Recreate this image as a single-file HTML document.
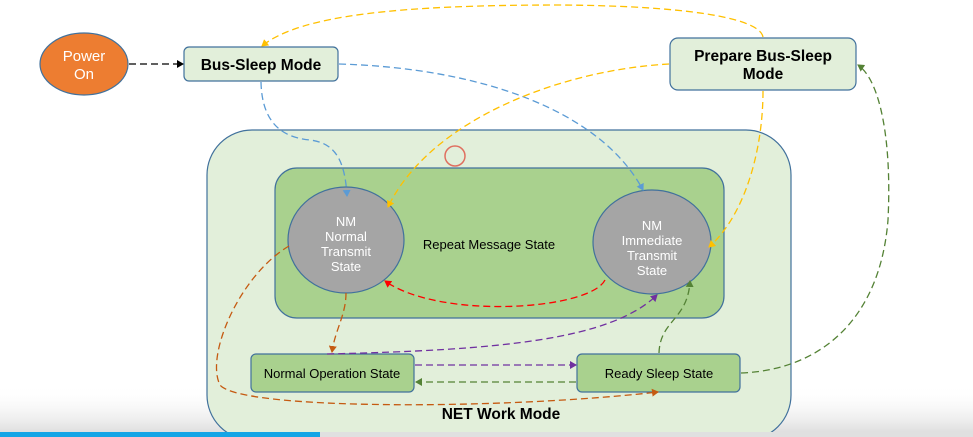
<!DOCTYPE html>
<html><head><meta charset="utf-8"><style>
html,body{margin:0;padding:0;background:#fff;}
svg{display:block;}
text{font-family:"Liberation Sans",sans-serif;}
</style></head><body>
<svg width="973" height="437" viewBox="0 0 973 437" xmlns="http://www.w3.org/2000/svg">
<defs>
<linearGradient id="bg" x1="0" y1="0" x2="0" y2="1">
<stop offset="0" stop-color="#ffffff" stop-opacity="0"/>
<stop offset="1" stop-color="#d8d8d8"/>
</linearGradient>
<marker id="ab" markerWidth="8" markerHeight="8" refX="6" refY="4" orient="auto" markerUnits="userSpaceOnUse"><path d="M0,0 L7,4 L0,8z" fill="#5B9BD5"/></marker>
<marker id="ay" markerWidth="8" markerHeight="8" refX="6" refY="4" orient="auto" markerUnits="userSpaceOnUse"><path d="M0,0 L7,4 L0,8z" fill="#FFC000"/></marker>
<marker id="ak" markerWidth="8" markerHeight="8" refX="6" refY="4" orient="auto" markerUnits="userSpaceOnUse"><path d="M0,0 L7,4 L0,8z" fill="#000"/></marker>
<marker id="ag" markerWidth="8" markerHeight="8" refX="6" refY="4" orient="auto" markerUnits="userSpaceOnUse"><path d="M0,0 L7,4 L0,8z" fill="#548235"/></marker>
<marker id="ao" markerWidth="8" markerHeight="8" refX="6" refY="4" orient="auto" markerUnits="userSpaceOnUse"><path d="M0,0 L7,4 L0,8z" fill="#C55A11"/></marker>
<marker id="ap" markerWidth="8" markerHeight="8" refX="6" refY="4" orient="auto" markerUnits="userSpaceOnUse"><path d="M0,0 L7,4 L0,8z" fill="#7030A0"/></marker>
<marker id="ar" markerWidth="8" markerHeight="8" refX="6" refY="4" orient="auto" markerUnits="userSpaceOnUse"><path d="M0,0 L7,4 L0,8z" fill="#FF0000"/></marker>
</defs>
<rect x="0" y="385" width="973" height="52" fill="url(#bg)"/>
<rect x="207" y="130" width="584" height="310" rx="45" fill="#E2EFDA" stroke="#41719C" stroke-width="1.2"/>
<rect x="275" y="168" width="449" height="150" rx="22" fill="#A9D18E" stroke="#41719C" stroke-width="1.2"/>
<circle cx="455" cy="156" r="10" fill="none" stroke="#E07060" stroke-width="1.5"/>
<ellipse cx="84" cy="64" rx="44" ry="31" fill="#ED7D31" stroke="#41719C" stroke-width="1.2"/>
<text x="84" y="61" font-size="15" fill="#fff" text-anchor="middle">Power</text>
<text x="84" y="79" font-size="15" fill="#fff" text-anchor="middle">On</text>
<rect x="184" y="47" width="154" height="34" rx="5" fill="#E2EFDA" stroke="#41719C" stroke-width="1.2"/>
<text x="261" y="70" font-size="15.5" font-weight="bold" text-anchor="middle">Bus-Sleep Mode</text>
<rect x="670" y="38" width="186" height="52" rx="8" fill="#E2EFDA" stroke="#41719C" stroke-width="1.2"/>
<text x="763" y="61" font-size="15.5" font-weight="bold" text-anchor="middle">Prepare Bus-Sleep</text>
<text x="763" y="79" font-size="15.5" font-weight="bold" text-anchor="middle">Mode</text>
<ellipse cx="346" cy="240" rx="58" ry="53" fill="#A5A5A5" stroke="#41719C" stroke-width="1.2"/>
<g font-size="13" fill="#fff" text-anchor="middle"><text x="346" y="226">NM</text><text x="346" y="241">Normal</text><text x="346" y="256">Transmit</text><text x="346" y="271">State</text></g>
<ellipse cx="652" cy="242" rx="59" ry="52" fill="#A5A5A5" stroke="#41719C" stroke-width="1.2"/>
<g font-size="13" fill="#fff" text-anchor="middle"><text x="652" y="230">NM</text><text x="652" y="245">Immediate</text><text x="652" y="260">Transmit</text><text x="652" y="275">State</text></g>
<text x="489" y="249" font-size="13" text-anchor="middle">Repeat Message State</text>
<rect x="251" y="354" width="163" height="38" rx="5" fill="#A9D18E" stroke="#41719C" stroke-width="1.2"/>
<text x="332" y="378" font-size="13" text-anchor="middle">Normal Operation State</text>
<rect x="577" y="354" width="163" height="38" rx="5" fill="#A9D18E" stroke="#41719C" stroke-width="1.2"/>
<text x="659" y="378" font-size="13" text-anchor="middle">Ready Sleep State</text>
<text x="501" y="419" font-size="15.5" font-weight="bold" text-anchor="middle">NET Work Mode</text>
<g fill="none" stroke-width="1.3" stroke-dasharray="7,4">
<path d="M129,64 L183,64" stroke="#000" marker-end="url(#ak)"/>
<path d="M261,82 C262,130 290,138 310,140 C335,143 345,160 347,196" stroke="#5B9BD5" marker-end="url(#ab)"/>
<path d="M339,64 C480,68 600,110 643,190" stroke="#5B9BD5" marker-end="url(#ab)"/>
<path d="M763,37 C760,20 700,6 560,5 C400,5 300,15 262,46" stroke="#FFC000" marker-end="url(#ay)"/>
<path d="M669,64 C560,70 430,120 388,207" stroke="#FFC000" marker-end="url(#ay)"/>
<path d="M763,91 C763,150 745,215 709,247" stroke="#FFC000" marker-end="url(#ay)"/>
<path d="M605,280 C590,310 440,320 385,281" stroke="#FF0000" marker-end="url(#ar)"/>
<path d="M346,293 C346,315 335,330 332,352" stroke="#C55A11" marker-end="url(#ao)"/>
<path d="M289,246 C240,275 205,355 220,385 C240,410 500,410 658,392" stroke="#C55A11" marker-end="url(#ao)"/>
<path d="M327,354 C500,350 610,340 657,295" stroke="#7030A0" marker-end="url(#ap)"/>
<path d="M415,365 L576,365" stroke="#7030A0" marker-end="url(#ap)"/>
<path d="M576,382 L416,382" stroke="#548235" marker-end="url(#ag)"/>
<path d="M659,353 C660,320 688,320 690,281" stroke="#548235" marker-end="url(#ag)"/>
<path d="M741,373 C820,370 880,320 888,220 C892,140 880,80 858,65" stroke="#548235" marker-end="url(#ag)"/>
</g>
<rect x="0" y="432" width="973" height="5" fill="#e0e0e0"/>
<rect x="0" y="432" width="320" height="5" fill="#13A5E6"/>
</svg>
</body></html>
